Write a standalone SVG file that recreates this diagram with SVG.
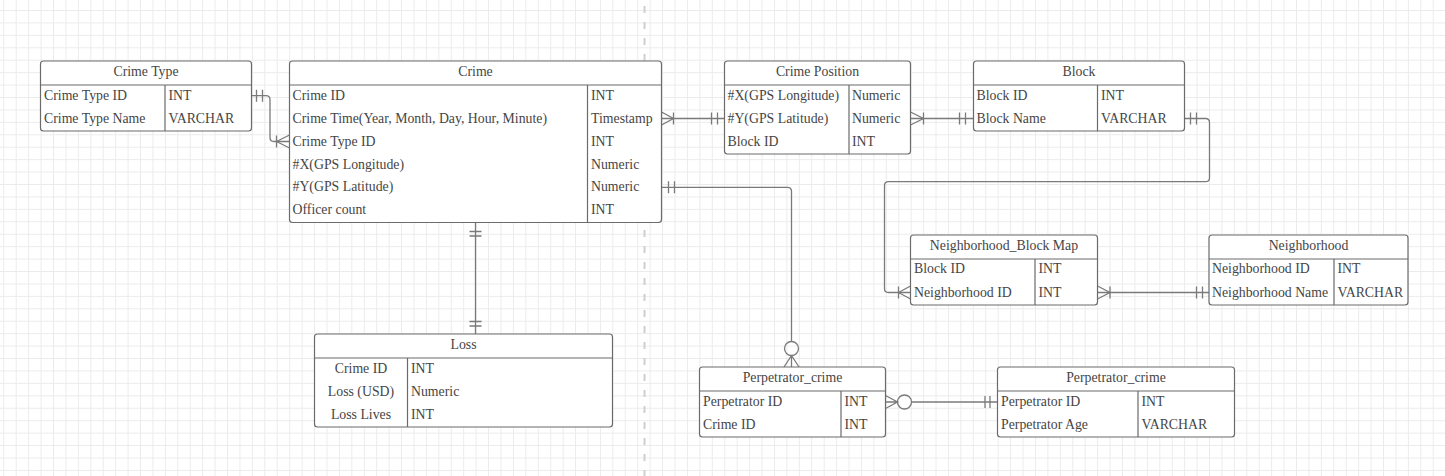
<svg xmlns="http://www.w3.org/2000/svg" width="1445" height="476" viewBox="0 0 1445 476">
<style>
.box{fill:#fff;stroke:#6b6b6b;stroke-width:1.2}
.ln{stroke:#6b6b6b;stroke-width:1.2;fill:none}
.cn{stroke:#7a7a7a;stroke-width:1.3;fill:none}
.t{font-family:"Liberation Serif","Times New Roman",serif;font-size:13.8px;fill:#454545;transform:translateY(-1px)}
.h{text-anchor:middle}
</style>
<defs>
<pattern id="grid" patternUnits="userSpaceOnUse" x="3.3" y="10" width="12.43" height="12.43">
<rect x="0" y="0" width="12.43" height="1" fill="#ebebeb"/>
<rect x="0" y="0" width="1" height="12.43" fill="#ebebeb"/>
</pattern>
</defs>
<rect width="1445" height="476" fill="#fff"/>
<rect width="1445" height="476" fill="url(#grid)"/>
<line x1="644.5" y1="6" x2="644.5" y2="476" stroke="#cfcfcf" stroke-width="2" stroke-dasharray="7 9"/>

<g id="connectors">
<!-- Crime Type -> Crime -->
<path class="cn" d="M251.5 95.7H266q4 0 4 4V137.5q0 4 4 4H289.5"/>
<path class="cn" d="M256.5 89.7V101.7M262.5 89.7V101.7"/>
<path class="cn" d="M276.5 135.5V147.5M276.5 141.5L289.5 135M276.5 141.5L289.5 148"/>
<!-- Crime -> Crime Position -->
<path class="cn" d="M661.5 118.5H724.5"/>
<path class="cn" d="M661.5 112L673.5 118.5L661.5 125M673.5 112.5V124.5"/>
<path class="cn" d="M711.5 112.5V124.5M717.5 112.5V124.5"/>
<!-- Crime Position -> Block -->
<path class="cn" d="M910.5 118.5H973.5"/>
<path class="cn" d="M910.5 112L923.5 118.5L910.5 125M923.5 112.5V124.5"/>
<path class="cn" d="M959.5 112.5V124.5M965.5 112.5V124.5"/>
<!-- Block -> Neighborhood_Block Map -->
<path class="cn" d="M1184.5 118.5H1205.5q4 0 4 4V177.7q0 4 -4 4H888.5q-4 0 -4 4V288.5q0 4 4 4H910.5"/>
<path class="cn" d="M1190.5 112.5V124.5M1196.5 112.5V124.5"/>
<path class="cn" d="M898.5 286.5V298.5M898.5 292.5L910.5 286M898.5 292.5L910.5 299"/>
<!-- Neighborhood_Block Map -> Neighborhood -->
<path class="cn" d="M1097.5 292.5H1209"/>
<path class="cn" d="M1097.5 286L1110 292.5L1097.5 299M1110 286.5V298.5"/>
<path class="cn" d="M1196.5 286.5V298.5M1202.5 286.5V298.5"/>
<!-- Crime -> Loss -->
<path class="cn" d="M475.5 222.5V334"/>
<path class="cn" d="M469.5 231.5H481.5M469.5 236H481.5M469.5 321.5H481.5M469.5 326H481.5"/>
<!-- Crime -> Perpetrator_crime -->
<path class="cn" d="M661.5 187.3H787.5q4 0 4 4V341.5"/>
<path class="cn" d="M668.5 181.3V193.3M674.5 181.3V193.3"/>
<circle class="cn" cx="791.5" cy="348.5" r="7"/>
<path class="cn" d="M791.5 355.5L784 367M791.5 355.5V367M791.5 355.5L799 367"/>
<!-- Perpetrator_crime -> Perpetrator_crime -->
<path class="cn" d="M911.5 402H997.5"/>
<circle class="cn" cx="904.5" cy="402" r="7"/>
<path class="cn" d="M885.5 395.5L897.5 402L885.5 408.5M885.5 402H897.5"/>
<path class="cn" d="M985 396V408M990 396V408"/>
</g>

<g id="crime-type">
<rect class="box" x="40.5" y="61" width="211" height="70" rx="3"/>
<path class="ln" d="M40.5 85H251.5M165 85V131"/>
<text class="t h" x="146" y="77">Crime Type</text>
<text class="t" x="44" y="100.5">Crime Type ID</text>
<text class="t" x="168.5" y="100.5">INT</text>
<text class="t" x="44" y="123.5">Crime Type Name</text>
<text class="t" x="168.5" y="123.5">VARCHAR</text>
</g>

<g id="crime">
<rect class="box" x="289.5" y="61" width="372" height="161.5" rx="3"/>
<path class="ln" d="M289.5 85H661.5M587.5 85V222.5"/>
<text class="t h" x="475.5" y="77">Crime</text>
<text class="t" x="292.5" y="100.5">Crime ID</text>
<text class="t" x="591" y="100.5">INT</text>
<text class="t" x="292.5" y="123.5">Crime Time(Year, Month, Day, Hour, Minute)</text>
<text class="t" x="591" y="123.5">Timestamp</text>
<text class="t" x="292.5" y="146.5">Crime Type ID</text>
<text class="t" x="591" y="146.5">INT</text>
<text class="t" x="292.5" y="169.5">#X(GPS Longitude)</text>
<text class="t" x="591" y="169.5">Numeric</text>
<text class="t" x="292.5" y="192.3">#Y(GPS Latitude)</text>
<text class="t" x="591" y="192.3">Numeric</text>
<text class="t" x="292.5" y="215">Officer count</text>
<text class="t" x="591" y="215">INT</text>
</g>

<g id="crime-position">
<rect class="box" x="724.5" y="61" width="186" height="93" rx="3"/>
<path class="ln" d="M724.5 85H910.5M849 85V154"/>
<text class="t h" x="817.5" y="77">Crime Position</text>
<text class="t" x="727.5" y="100.5">#X(GPS Longitude)</text>
<text class="t" x="852" y="100.5">Numeric</text>
<text class="t" x="727.5" y="123.5">#Y(GPS Latitude)</text>
<text class="t" x="852" y="123.5">Numeric</text>
<text class="t" x="727.5" y="146.5">Block ID</text>
<text class="t" x="852" y="146.5">INT</text>
</g>

<g id="block">
<rect class="box" x="973.5" y="61" width="211" height="70" rx="3"/>
<path class="ln" d="M973.5 85H1184.5M1097.5 85V131"/>
<text class="t h" x="1079" y="77">Block</text>
<text class="t" x="976.5" y="100.5">Block ID</text>
<text class="t" x="1101" y="100.5">INT</text>
<text class="t" x="976.5" y="123.5">Block Name</text>
<text class="t" x="1101" y="123.5">VARCHAR</text>
</g>

<g id="neighborhood-block-map">
<rect class="box" x="910.5" y="235" width="187" height="70" rx="3"/>
<path class="ln" d="M910.5 259H1097.5M1035 259V305"/>
<text class="t h" x="1004" y="251">Neighborhood_Block Map</text>
<text class="t" x="914" y="274">Block ID</text>
<text class="t" x="1038.5" y="274">INT</text>
<text class="t" x="914" y="297.5">Neighborhood ID</text>
<text class="t" x="1038.5" y="297.5">INT</text>
</g>

<g id="neighborhood">
<rect class="box" x="1209" y="235" width="199" height="70" rx="3"/>
<path class="ln" d="M1209 259H1408M1334 259V305"/>
<text class="t h" x="1308.5" y="251">Neighborhood</text>
<text class="t" x="1212" y="274">Neighborhood ID</text>
<text class="t" x="1337.5" y="274">INT</text>
<text class="t" x="1212" y="297.5">Neighborhood Name</text>
<text class="t" x="1337.5" y="297.5">VARCHAR</text>
</g>

<g id="loss">
<rect class="box" x="314.5" y="334" width="298" height="93" rx="3"/>
<path class="ln" d="M314.5 358H612.5M407.5 358V427"/>
<text class="t h" x="463.5" y="350">Loss</text>
<text class="t h" x="361" y="374">Crime ID</text>
<text class="t" x="411" y="374">INT</text>
<text class="t h" x="361" y="397">Loss (USD)</text>
<text class="t" x="411" y="397">Numeric</text>
<text class="t h" x="361" y="420">Loss Lives</text>
<text class="t" x="411" y="420">INT</text>
</g>

<g id="perpetrator-crime">
<rect class="box" x="699.5" y="367" width="186" height="70" rx="3"/>
<path class="ln" d="M699.5 391H885.5M841 391V437"/>
<text class="t h" x="792.5" y="383">Perpetrator_crime</text>
<text class="t" x="703" y="407">Perpetrator ID</text>
<text class="t" x="844.5" y="407">INT</text>
<text class="t" x="703" y="430">Crime ID</text>
<text class="t" x="844.5" y="430">INT</text>
</g>

<g id="perpetrator">
<rect class="box" x="997.5" y="367" width="237" height="70" rx="3"/>
<path class="ln" d="M997.5 391H1234.5M1138 391V437"/>
<text class="t h" x="1116" y="383">Perpetrator_crime</text>
<text class="t" x="1001" y="407">Perpetrator ID</text>
<text class="t" x="1141.5" y="407">INT</text>
<text class="t" x="1001" y="430">Perpetrator Age</text>
<text class="t" x="1141.5" y="430">VARCHAR</text>
</g>
</svg>
